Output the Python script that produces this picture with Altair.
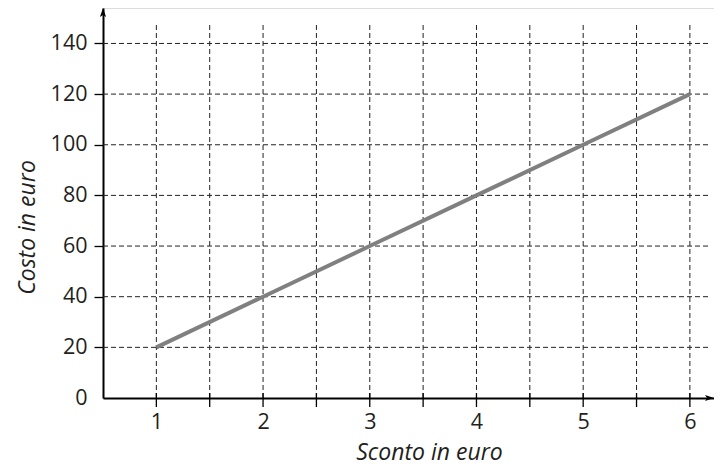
import altair as alt
import pandas as pd

# data
sconto = [1, 2, 3, 4, 5, 6]
costo = [20, 40, 60, 80, 100, 120]
x_ticks = [1, 1.5, 2, 2.5, 3, 3.5, 4, 4.5, 5, 5.5, 6]
y_ticks = [0, 20, 40, 60, 80, 100, 120, 140]
y_grid = [20, 40, 60, 80, 100, 120, 140]

X_MIN, X_MAX = 0.5, 6.226
Y_MIN, Y_MAX = 0, 154
GRID_X_END = 6.18
GRID_Y_END = 148

FONT = "Open Sans"
INK = "#231f20"

line_df = pd.DataFrame({"x": sconto, "y": costo})
vgrid_df = pd.DataFrame({"x": x_ticks, "y": [Y_MIN] * len(x_ticks), "y2": [GRID_Y_END] * len(x_ticks)})
hgrid_df = pd.DataFrame({"y": y_grid, "x": [X_MIN] * len(y_grid), "x2": [GRID_X_END] * len(y_grid)})
tick_df = pd.DataFrame({"x": x_ticks})
arrow_df = pd.DataFrame({"x": [X_MIN, X_MAX], "y": [Y_MAX, Y_MIN], "a": [0, 90]})

xscale = alt.Scale(domain=[X_MIN, X_MAX], nice=False, zero=False)
yscale = alt.Scale(domain=[Y_MIN, Y_MAX], nice=False, zero=False)

x_axis = alt.Axis(
    values=x_ticks,
    labelExpr="datum.value % 1 == 0 ? '' + datum.value : ''",
    grid=False,
    domainColor="black", domainWidth=2,
    tickColor="transparent", tickSize=9,
    labelFont=FONT, labelFontSize=21.5, labelColor=INK, labelPadding=4,
    title="Sconto in euro",
    titleFont=FONT, titleFontSize=23, titleFontStyle="italic", titleFontWeight="normal",
    titleColor=INK, titleX=326, titleY=61, titleBaseline="alphabetic",
)
y_axis = alt.Axis(
    values=y_ticks,
    grid=False,
    domainColor="black", domainWidth=2,
    tickColor="black", tickWidth=1.3, tickSize=9,
    tickOpacity={"condition": {"test": "datum.value == 0", "value": 0}, "value": 1},
    labelFont=FONT, labelFontSize=21.5, labelColor=INK, labelPadding=7,
    title="Costo in euro",
    titleFont=FONT, titleFontSize=23, titleFontStyle="italic", titleFontWeight="normal",
    titleColor=INK, titleX=-69, titleY=219, titleBaseline="alphabetic", titleAngle=270,
)

vgrid = alt.Chart(vgrid_df).mark_rule(color="#222", strokeWidth=1, strokeDash=[5, 3]).encode(
    x=alt.X("x:Q", scale=xscale, axis=x_axis),
    y=alt.Y("y:Q", scale=yscale, axis=y_axis),
    y2="y2:Q",
)
hgrid = alt.Chart(hgrid_df).mark_rule(color="#222", strokeWidth=1, strokeDash=[5, 3]).encode(
    x=alt.X("x:Q", scale=xscale),
    x2="x2:Q",
    y=alt.Y("y:Q", scale=yscale),
)
xticks = alt.Chart(tick_df).mark_rule(color="black", strokeWidth=1.3).encode(
    x=alt.X("x:Q", scale=xscale),
    y=alt.value(385),
    y2=alt.value(399),
)
line = alt.Chart(line_df).mark_line(color="#808080", strokeWidth=4).encode(
    x=alt.X("x:Q", scale=xscale),
    y=alt.Y("y:Q", scale=yscale),
)
arrows = alt.Chart(arrow_df).mark_point(
    shape="M0,0L0.55,1.6L0,1.25L-0.55,1.6Z", filled=True, color="black", size=125, opacity=1, clip=False
).encode(
    x=alt.X("x:Q", scale=xscale),
    y=alt.Y("y:Q", scale=yscale),
    angle=alt.Angle("a:Q", scale=None),
)

chart = (
    alt.layer(vgrid, hgrid, xticks, line, arrows)
    .properties(
        width=611, height=390,
        autosize=alt.AutoSizeParams(type="none"),
        padding={"left": 95, "top": 0, "right": 0, "bottom": 68},
    )
    .configure_view(stroke=None)
    .configure(background="white")
)

chart.save("out.html", embed_options={"renderer": "svg", "actions": False})
